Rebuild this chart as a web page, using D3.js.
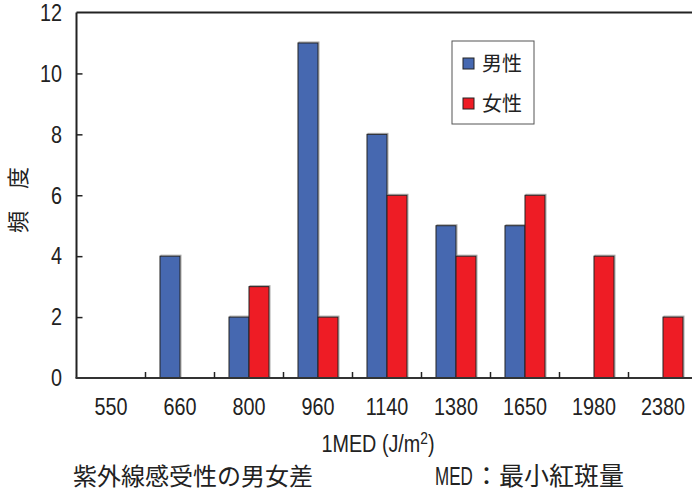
<!DOCTYPE html>
<html>
<head>
<meta charset="utf-8">
<script src="https://cdn.jsdelivr.net/npm/d3@7/dist/d3.min.js"></script>
<style>
  html, body { margin: 0; padding: 0; background: #fff; }
  svg { display: block; }
</style>
</head>
<body>
<script>
// 1MED dose classes (J/m²) and frequency counts by sex
const categories = ["550", "660", "800", "960", "1140", "1380", "1650", "1980", "2380"];
const seriesNames = ["男性", "女性"];
const maleCounts = [0, 4, 2, 11, 8, 5, 5, 0, 0];
const femaleCounts = [0, 0, 3, 2, 6, 4, 6, 4, 2];
const yTicks = [0, 2, 4, 6, 8, 10, 12];

const seriesColors = { "男性": "#4668B0", "女性": "#EE1C25" };
const latin = "'Liberation Sans', Arial, sans-serif";
const cjk = "'Noto Sans CJK JP', 'Noto Sans CJK SC', sans-serif";
const condense = 0.86; // horizontal squeeze for the condensed numeric face

const W = 692, H = 494;
const plotLeft = 76.5, plotTop = 12.5, plotBottom = 378, bandW = 69;
const plotRight = plotLeft + bandW * categories.length;

const svg = d3.select("body").append("svg")
  .attr("width", W).attr("height", H)
  .attr("viewBox", `0 0 ${W} ${H}`);

const x = d3.scaleBand().domain(categories).range([plotLeft, plotRight]).padding(0);
const xs = d3.scaleBand().domain(seriesNames)
  .range([x.bandwidth() / 2 - 20, x.bandwidth() / 2 + 20]).padding(0);
const y = d3.scaleLinear().domain([0, 12]).range([plotBottom, plotTop]);

const rows = categories.map((c, i) => ({
  cat: c,
  values: [
    { key: "男性", value: maleCounts[i] },
    { key: "女性", value: femaleCounts[i] }
  ]
}));

// Bars
const groups = svg.append("g").selectAll("g").data(rows).join("g")
  .attr("transform", d => `translate(${x(d.cat)},0)`);

const bars = groups.selectAll("g.bar").data(d => d.values.filter(v => v.value > 0)).join("g")
  .attr("class", "bar");

// light edge offset up/right of each bar
bars.append("rect")
  .attr("x", d => xs(d.key) + 1)
  .attr("y", d => y(d.value) - 1)
  .attr("width", xs.bandwidth())
  .attr("height", d => plotBottom - y(d.value))
  .attr("fill", "none")
  .attr("stroke", "#aaa")
  .attr("stroke-width", 1);

bars.append("rect")
  .attr("x", d => xs(d.key))
  .attr("y", d => y(d.value))
  .attr("width", xs.bandwidth())
  .attr("height", d => plotBottom - y(d.value))
  .attr("fill", d => seriesColors[d.key])
  .attr("stroke", "#222")
  .attr("stroke-width", 1);

// Plot frame: top border
svg.append("line")
  .attr("x1", plotLeft).attr("x2", W + 10)
  .attr("y1", plotTop).attr("y2", plotTop)
  .attr("stroke", "#222").attr("stroke-width", 2);

// Y axis (ticks point inward)
const yAxis = svg.append("g")
  .attr("transform", `translate(${plotLeft},0)`)
  .call(d3.axisRight(y).tickValues(yTicks).tickSize(6).tickFormat(""));
yAxis.select(".domain").attr("stroke", "#222").attr("stroke-width", 2)
  .attr("d", `M0,${plotTop}V${plotBottom}`);
yAxis.selectAll(".tick line").attr("stroke", "#222").attr("stroke-width", 1.5);
yAxis.selectAll(".tick").filter(d => d === 0 || d === 12).select("line").remove();

svg.append("g").selectAll("text").data(yTicks).join("text")
  .attr("transform", d => `translate(62,${y(d)}) scale(${condense},1)`)
  .attr("dy", "0.36em")
  .attr("text-anchor", "end")
  .attr("font-family", latin)
  .attr("font-size", 23)
  .attr("fill", "#222")
  .text(d => d);

// X axis with ticks at category boundaries pointing up
const boundaries = d3.range(1, categories.length).map(i => plotLeft + i * bandW);
const xAxis = svg.append("g").attr("transform", `translate(0,${plotBottom})`);
xAxis.append("line")
  .attr("x1", plotLeft - 1).attr("x2", W + 10)
  .attr("y1", 0).attr("y2", 0)
  .attr("stroke", "#333").attr("stroke-width", 2);
xAxis.selectAll("line.tick").data(boundaries).join("line")
  .attr("class", "tick")
  .attr("x1", d => d).attr("x2", d => d)
  .attr("y1", 0).attr("y2", -6)
  .attr("stroke", "#222").attr("stroke-width", 1.5);

svg.append("g").selectAll("text").data(categories).join("text")
  .attr("transform", d => `translate(${x(d) + x.bandwidth() / 2},407) scale(${condense},1)`)
  .attr("dy", "0.36em")
  .attr("text-anchor", "middle")
  .attr("font-family", latin)
  .attr("font-size", 23)
  .attr("fill", "#222")
  .text(d => d);

// Axis titles
const xTitle = svg.append("text")
  .attr("transform", `translate(378,452) scale(${condense},1)`)
  .attr("text-anchor", "middle")
  .attr("font-family", latin)
  .attr("font-size", 23)
  .attr("fill", "#222");
xTitle.append("tspan").text("1MED (J/m");
xTitle.append("tspan").attr("dy", -8).attr("font-size", 16).text("2");
xTitle.append("tspan").attr("dy", 8).text(")");

svg.append("text")
  .attr("transform", "translate(26,200) rotate(-90)")
  .attr("text-anchor", "middle")
  .attr("font-family", cjk)
  .attr("font-size", 22)
  .attr("fill", "#222")
  .text("頻　度");

// Legend
const legend = svg.append("g");
legend.append("rect")
  .attr("x", 452).attr("y", 41).attr("width", 82).attr("height", 83)
  .attr("fill", "#fff").attr("stroke", "#555").attr("stroke-width", 1);
const items = legend.selectAll("g").data(seriesNames).join("g")
  .attr("transform", (d, i) => `translate(463,${58 + i * 40})`);
items.append("rect")
  .attr("width", 11).attr("height", 11)
  .attr("fill", d => seriesColors[d])
  .attr("stroke", "#222").attr("stroke-width", 1);
items.append("text")
  .attr("x", 19).attr("y", 6)
  .attr("dy", "0.36em")
  .attr("font-family", cjk)
  .attr("font-size", 20)
  .attr("fill", "#222")
  .text(d => d);

// Footnotes
svg.append("text")
  .attr("x", 73).attr("y", 485)
  .attr("font-family", cjk)
  .attr("font-size", 24)
  .attr("fill", "#222")
  .text("紫外線感受性の男女差");

svg.append("text")
  .attr("transform", `translate(435,485) scale(0.68,1)`)
  .attr("font-family", latin)
  .attr("font-size", 25)
  .attr("fill", "#222")
  .text("MED");
svg.append("text")
  .attr("x", 474).attr("y", 485)
  .attr("font-family", cjk)
  .attr("font-size", 25)
  .attr("fill", "#222")
  .text("：最小紅斑量");
</script>
</body>
</html>
